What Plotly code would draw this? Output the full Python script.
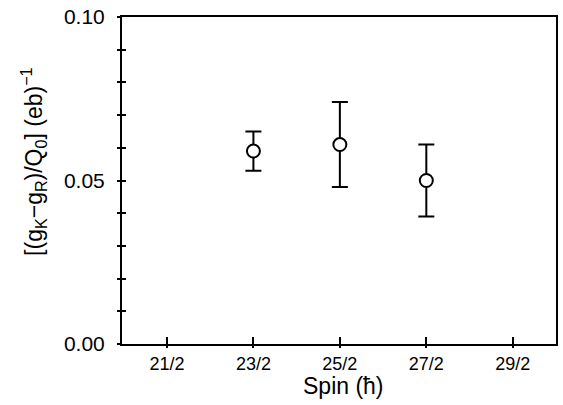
import plotly.graph_objects as go

spin_labels = ["21/2", "23/2", "25/2", "27/2", "29/2"]
spin_ticks = [10.5, 11.5, 12.5, 13.5, 14.5]
spin_data = [11.5, 12.5, 13.5]
values = [0.059, 0.061, 0.050]
err_plus = [0.006, 0.013, 0.011]
err_minus = [0.006, 0.013, 0.011]
y_ticks = [0.0, 0.05, 0.1]
y_ticktext = ["0.00", "0.05", "0.10"]
y_minor = [0.01, 0.02, 0.03, 0.04, 0.06, 0.07, 0.08, 0.09]

FONT = "Liberation Sans, Arial, Helvetica, sans-serif"

fig = go.Figure()
fig.add_trace(go.Scatter(
    x=spin_data, y=values, mode="markers",
    marker=dict(symbol="circle", size=13, color="white",
                line=dict(color="black", width=2)),
    error_y=dict(type="data", symmetric=False, array=err_plus, arrayminus=err_minus,
                 color="black", thickness=2, width=8),
    showlegend=False,
))
fig.add_trace(go.Scatter(x=[], y=[], xaxis="x2", yaxis="y2", showlegend=False))

xr = [9.98, 15.0]
yr = [0.0, 0.1]
fig.update_layout(
    width=563, height=405,
    margin=dict(l=122, r=5, t=12, b=61),
    paper_bgcolor="white", plot_bgcolor="white",
    font=dict(family=FONT, color="black"),
    xaxis=dict(range=xr, tickvals=spin_ticks, ticktext=spin_labels,
               ticks="outside", ticklen=2, tickwidth=2, tickcolor="black",
               showline=True, linewidth=2, linecolor="black", mirror=True,
               showgrid=False, zeroline=False, tickfont=dict(size=18)),
    yaxis=dict(range=yr, tickvals=y_ticks, ticktext=y_ticktext,
               ticks="outside", ticklen=3, tickwidth=2, tickcolor="black",
               showline=True, linewidth=2, linecolor="black", mirror=True,
               showgrid=False, zeroline=False, tickfont=dict(size=21),
               ticklabelstandoff=8,
               minor=dict(tickvals=y_minor,
                          ticks="outside", ticklen=3, tickwidth=1.5, tickcolor="black")),
    xaxis2=dict(range=xr, overlaying="x", anchor="y2", tickvals=spin_ticks,
                ticks="inside", ticklen=7, tickwidth=2, tickcolor="black",
                showticklabels=False, showgrid=False, zeroline=False, showline=False),
    yaxis2=dict(range=yr, overlaying="y", anchor="x2", tickvals=y_ticks,
                ticks="inside", ticklen=4, tickwidth=2, tickcolor="black",
                showticklabels=False, showgrid=False, zeroline=False, showline=False,
                minor=dict(tickvals=y_minor,
                           ticks="inside", ticklen=4, tickwidth=1.5, tickcolor="black")),
    annotations=[
        dict(text="[(g<sub>K</sub>−g<sub>R</sub>)/Q<sub>0</sub>] (eb)<sup>−1</sup>",
             xref="paper", yref="paper", x=-0.205, y=0.557,
             xanchor="center", yanchor="middle", textangle=-90, showarrow=False,
             font=dict(size=23, family=FONT, color="black")),
        dict(text="Spin (ħ)",
             xref="paper", yref="paper", x=0.51, y=-0.128,
             xanchor="center", yanchor="middle", showarrow=False,
             font=dict(size=23, family=FONT, color="black")),
    ],
)

fig.write_html("out.html")
